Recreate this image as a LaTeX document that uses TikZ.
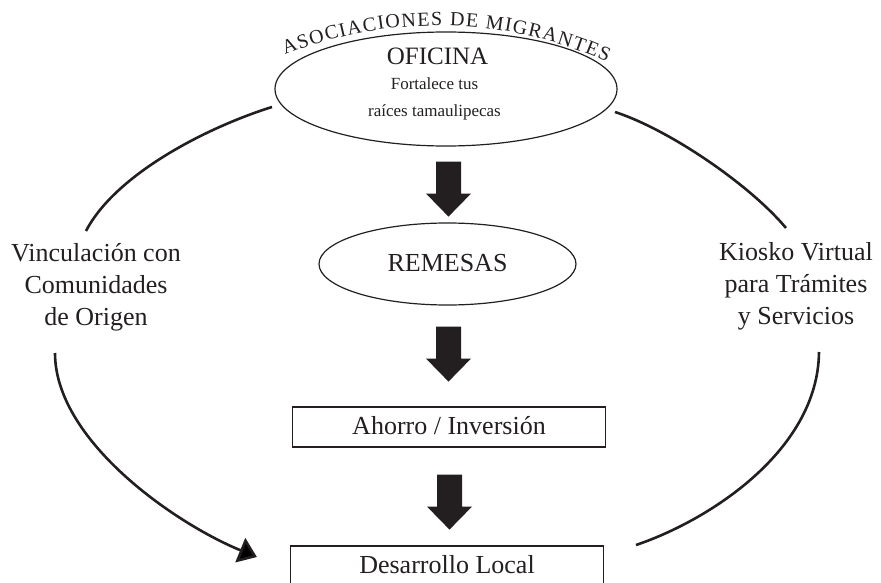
\documentclass[tikz,border=0pt]{standalone}
\usepackage{fontspec}
\setmainfont{Liberation Serif}
\usetikzlibrary{arrows.meta,shapes.geometric,decorations.text,calc}
\definecolor{ink}{RGB}{35,31,32}
\tikzset{
  big/.style={font=\fontsize{26}{32}\selectfont, text=ink},
  ovalnode/.style={ellipse, draw=ink, line width=1.2pt, inner sep=0pt},
  boxnode/.style={rectangle, draw=ink, line width=1.2pt, inner sep=0pt,
    minimum width=313pt, minimum height=40pt, big, text height=19pt, text depth=5pt},
  sidelabel/.style={big, align=center, anchor=base},
  loopline/.style={draw=ink, line width=2.6pt},
  pics/barrow/.style={code={
    \fill[ink] (-12.5,0) -- (12.5,0) -- (12.5,32) -- (22.5,32) -- (0,55)
      -- (-22.5,32) -- (-12.5,32) -- cycle;}},
}
\begin{document}
\begin{tikzpicture}[x=1pt,y=-1pt]
\useasboundingbox (0,0) rectangle (881,583);
\clip (0,0) rectangle (881,583);

% central column
\node[ovalnode, minimum width=342pt, minimum height=114pt] (ofi) at (446,89) {};
\node[anchor=base, font=\fontsize{25}{28}\selectfont, text=ink] (ofititle) at (437.5,65) {OFICINA};
\node[anchor=base, font=\fontsize{17}{27}\selectfont, text=ink] (ofisub1) at (434.5,90) {Fortalece tus};
\node[anchor=base, font=\fontsize{17}{27}\selectfont, text=ink] (ofisub2) at (434.5,117) {raíces tamaulipecas};

\node[ovalnode, minimum width=257pt, minimum height=82pt, big,
      text height=19pt, text depth=5pt] (rem) at (447.5,264) {REMESAS};
\node[boxnode] (aho) at (449,427) {Ahorro / Inversión};
\node[boxnode] (dev) at (447,566) {Desarrollo Local};

% block arrows
\coordinate (a1) at ($(ofi.south)+(2.5,15)$);
\coordinate (a2) at ($(rem.south)+(1,21)$);
\coordinate (a3) at ($(aho.south)+(0.5,27)$);
\pic at (a1) {barrow};
\pic at (a2) {barrow};
\pic at (a3) {barrow};

% arc text
\path[decorate, decoration={text along path,
   text={|\fontsize{20}{24}\selectfont|ASOCIACIONES DE MIGRANTES},
   text align={fit to path}, text color=ink}]
   (285,55) .. controls (390,13.5) and (504,16) .. (607,62);

% side labels (base = last line)
\node[sidelabel] (left) at (96,325) {Vinculación con\\Comunidades\\de Origen};
\node[sidelabel] (right) at (796,324) {Kiosko Virtual\\para Trámites\\y Servicios};

% loop connectors
\coordinate (ul1) at (272,107);
\coordinate (ul2) at (86,231);
\coordinate (ur1) at (615,112);
\coordinate (ur2) at (786,228);
\coordinate (ll1) at (55,353);
\coordinate (ll2) at ($(dev.west)+(-33,-9)$);
\coordinate (lr1) at (819,352);
\coordinate (lr2) at (636,545);

\draw[loopline] (ul1) .. controls (205,128) and (115,175) .. (ul2);
\draw[loopline] (ur1) .. controls (670,130) and (750,185) .. (ur2);
\draw[loopline, -{Triangle[length=18pt,width=26pt]}] (ll1) .. controls (55,440) and (174,523) .. (ll2);
\draw[loopline] (lr1) .. controls (818,450) and (710,520) .. (lr2);
\end{tikzpicture}
\end{document}
